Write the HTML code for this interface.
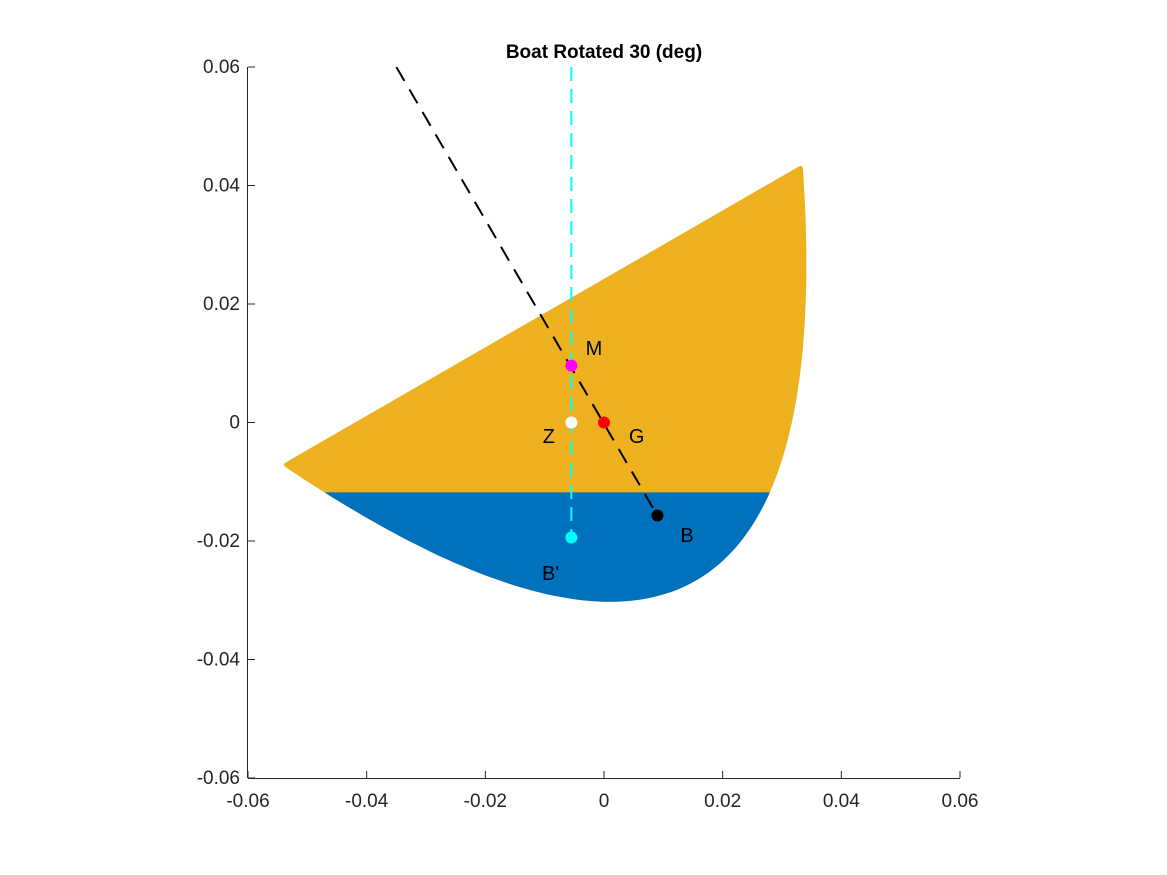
<!DOCTYPE html>
<html><head><meta charset="utf-8"><style>
html,body{margin:0;padding:0;background:#fff;}
svg{display:block;font-family:"Liberation Sans",Arial,sans-serif;}
</style></head><body>
<svg id="chart" width="1167" height="875">
<defs><clipPath id="below"><rect id="belowRect" x="0" y="0" width="1167" height="875"/></clipPath>
<clipPath id="plotclip"><rect x="248" y="67" width="712" height="711"/></clipPath></defs>
<g id="plot" clip-path="url(#plotclip)"></g>
<g id="axes"></g>
<text x="604" y="58" text-anchor="middle" font-size="19" font-weight="bold" fill="#000">Boat Rotated 30 (deg)</text>
</svg>
<script>
const xTicks=[-0.06,-0.04,-0.02,0,0.02,0.04,0.06];
const yTicks=[-0.06,-0.04,-0.02,0,0.02,0.04,0.06];
const xTickLabels=["-0.06","-0.04","-0.02","0","0.02","0.04","0.06"];
const yTickLabels=["-0.06","-0.04","-0.02","0","0.02","0.04","0.06"];
const rotationDeg=30;
const hullHalfWidth=0.05;
const hullCurvature=20.4;
const hullOffset=[0.0153,-0.0263];
const waterlineY=-0.0118;
const pointNames=["M","Z","G","B","B'"];
const pointX=[-0.0055,-0.0055,0,0.009,-0.0055];
const pointY=[0.0096,0,0,-0.0157,-0.0194];
const pointColors=["#ff00ff","#ffffff","#ff0000","#000000","#00ffff"];
const labelDX=[0.0038,-0.0038,0.0055,0.005,-0.0035];
const labelDY=[0.0018,-0.0035,-0.0035,-0.0045,-0.0072];
const axisLineStart=[-0.035,0.06];
const cyanTop=0.06;

const X0=248,X1=960,Y0=778,Y1=67;
const sx=v=>X0+(v+0.06)/0.12*(X1-X0);
const sy=v=>Y0-(v+0.06)/0.12*(Y0-Y1);
const NS="http://www.w3.org/2000/svg";
function mk(t,a,p){const e=document.createElementNS(NS,t);for(const k in a)e.setAttribute(k,a[k]);p.appendChild(e);return e;}
const plot=document.getElementById('plot'),axes=document.getElementById('axes');

const th=rotationDeg*Math.PI/180,c=Math.cos(th),s=Math.sin(th);
let pts=[];
for(let i=0;i<=120;i++){const x=-hullHalfWidth+2*hullHalfWidth*i/120;const y=hullCurvature*x*x;
pts.push([x*c-y*s+hullOffset[0],x*s+y*c+hullOffset[1]]);}
const d="M"+pts.map(p=>sx(p[0]).toFixed(1)+","+sy(p[1]).toFixed(1)).join("L")+"Z";
const br=document.getElementById('belowRect');br.setAttribute('y',sy(waterlineY));
const yel=mk('path',{d:d,fill:"#edb120",stroke:"#edb120","stroke-width":5,"stroke-linejoin":"round"},plot);


const blu=mk('path',{d:d,fill:"#0072bd",stroke:"#0072bd","stroke-width":5,"clip-path":"url(#below)"},plot);



const cy=mk('line',{x1:sx(pointX[4]),y1:sy(cyanTop),x2:sx(pointX[4]),y2:sy(pointY[4]),stroke:"#00ffff","stroke-width":2,"stroke-dasharray":"14,8"},plot);


const bl=mk('line',{x1:sx(axisLineStart[0]),y1:sy(axisLineStart[1]),x2:sx(pointX[3]),y2:sy(pointY[3]),stroke:"#000","stroke-width":2,"stroke-dasharray":"16,10"},plot);



for(let i=0;i<pointNames.length;i++){
const ci=mk('circle',{cx:sx(pointX[i]),cy:sy(pointY[i]),r:6,fill:pointColors[i]},plot);


const t=mk('text',{x:sx(pointX[i]+labelDX[i]),y:sy(pointY[i]+labelDY[i]),"text-anchor":"middle","font-size":20,fill:"#000"},plot);
t.textContent=pointNames[i];


}

const xa=mk('line',{x1:X0,y1:Y0+0.5,x2:X1,y2:Y0+0.5,stroke:"#262626","stroke-width":1},axes);


const ya=mk('line',{x1:X0-0.5,y1:Y1,x2:X0-0.5,y2:Y0,stroke:"#262626","stroke-width":1},axes);


xTicks.forEach((v,i)=>{const x=sx(v);
const tk=mk('line',{x1:x,y1:Y0,x2:x,y2:Y0-7,stroke:"#262626"},axes);


const t=mk('text',{x:x,y:Y0+29,"text-anchor":"middle","font-size":19,fill:"#262626"},axes);t.textContent=xTickLabels[i];

});
yTicks.forEach((v,i)=>{const y=sy(v);
const tk=mk('line',{x1:X0,y1:y,x2:X0+7,y2:y,stroke:"#262626"},axes);


const t=mk('text',{x:X0-8,y:y+6,"text-anchor":"end","font-size":19,fill:"#262626"},axes);t.textContent=yTickLabels[i];

});
</script>
</body></html>
